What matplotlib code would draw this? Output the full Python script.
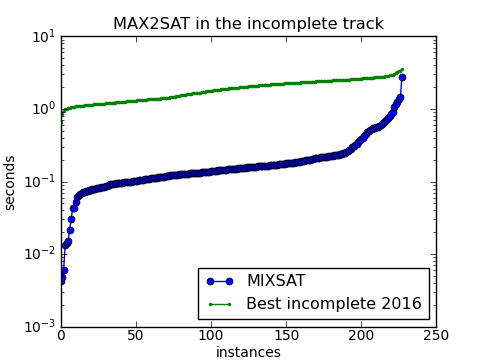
import matplotlib
matplotlib.use("Agg")
import matplotlib.pyplot as plt

title = "MAX2SAT in the incomplete track"
xlabel = "instances"
ylabel = "seconds"
label_mixsat = "MIXSAT"
label_best = "Best incomplete 2016"

mixsat = [
    0.0042, 0.0049, 0.0060, 0.0133, 0.0143, 0.0153, 0.0215, 0.030, 0.043, 0.043,
    0.052, 0.062, 0.066, 0.068, 0.069, 0.071, 0.072, 0.074, 0.075, 0.076,
    0.077, 0.078, 0.079, 0.080, 0.081, 0.082, 0.082, 0.083, 0.084, 0.085,
    0.087, 0.088, 0.090, 0.091, 0.092, 0.092, 0.093, 0.094, 0.094, 0.095,
    0.096, 0.096, 0.097, 0.098, 0.098, 0.099, 0.100, 0.100, 0.101, 0.102,
    0.102, 0.103, 0.104, 0.104, 0.105, 0.106, 0.107, 0.107, 0.108, 0.109,
    0.110, 0.110, 0.111, 0.112, 0.113, 0.114, 0.115, 0.116, 0.116, 0.117,
    0.118, 0.119, 0.120, 0.121, 0.121, 0.122, 0.123, 0.124, 0.124, 0.125,
    0.125, 0.126, 0.127, 0.127, 0.128, 0.128, 0.129, 0.130, 0.130, 0.131,
    0.132, 0.132, 0.133, 0.133, 0.134, 0.135, 0.135, 0.136, 0.136, 0.137,
    0.138, 0.139, 0.139, 0.140, 0.141, 0.142, 0.143, 0.143, 0.144, 0.145,
    0.146, 0.147, 0.147, 0.148, 0.149, 0.150, 0.150, 0.151, 0.152, 0.153,
    0.153, 0.154, 0.155, 0.155, 0.156, 0.157, 0.158, 0.158, 0.159, 0.160,
    0.160, 0.161, 0.162, 0.163, 0.163, 0.164, 0.165, 0.166, 0.166, 0.167,
    0.168, 0.169, 0.169, 0.170, 0.171, 0.172, 0.173, 0.174, 0.175, 0.176,
    0.177, 0.178, 0.179, 0.180, 0.181, 0.182, 0.184, 0.185, 0.186, 0.188,
    0.189, 0.191, 0.193, 0.195, 0.196, 0.198, 0.200, 0.203, 0.207, 0.210,
    0.212, 0.213, 0.214, 0.215, 0.216, 0.217, 0.219, 0.220, 0.222, 0.223,
    0.225, 0.227, 0.229, 0.231, 0.233, 0.234, 0.236, 0.240, 0.245, 0.250,
    0.256, 0.262, 0.270, 0.282, 0.296, 0.31, 0.32, 0.33, 0.35, 0.37,
    0.38, 0.40, 0.42, 0.45, 0.48, 0.50, 0.52, 0.53, 0.54, 0.55,
    0.56, 0.57, 0.58, 0.60, 0.62, 0.65, 0.68, 0.72, 0.76, 0.80,
    0.84, 0.92, 1.05, 1.18, 1.26, 1.35, 1.46, 2.74,
]

best2016 = [
    0.66, 0.86, 0.95, 0.99, 1.01, 1.02, 1.04, 1.05, 1.06, 1.07,
    1.08, 1.09, 1.10, 1.10, 1.11, 1.11, 1.12, 1.12, 1.13, 1.13,
    1.14, 1.14, 1.15, 1.15, 1.16, 1.16, 1.17, 1.17, 1.18, 1.18,
    1.19, 1.20, 1.20, 1.21, 1.21, 1.22, 1.22, 1.23, 1.23, 1.24,
    1.24, 1.25, 1.26, 1.26, 1.27, 1.27, 1.28, 1.28, 1.29, 1.29,
    1.30, 1.31, 1.31, 1.32, 1.32, 1.33, 1.34, 1.34, 1.35, 1.35,
    1.36, 1.36, 1.37, 1.38, 1.38, 1.39, 1.39, 1.40, 1.41, 1.41,
    1.42, 1.42, 1.43, 1.44, 1.46, 1.47, 1.48, 1.49, 1.51, 1.52,
    1.53, 1.55, 1.56, 1.57, 1.59, 1.60, 1.61, 1.62, 1.63, 1.64,
    1.65, 1.66, 1.67, 1.68, 1.70, 1.71, 1.72, 1.74, 1.75, 1.76,
    1.78, 1.79, 1.80, 1.81, 1.83, 1.84, 1.85, 1.86, 1.87, 1.88,
    1.89, 1.90, 1.91, 1.92, 1.93, 1.94, 1.95, 1.96, 1.97, 1.98,
    1.99, 2.00, 2.01, 2.02, 2.03, 2.04, 2.05, 2.06, 2.07, 2.08,
    2.09, 2.10, 2.11, 2.12, 2.13, 2.13, 2.14, 2.15, 2.16, 2.16,
    2.17, 2.18, 2.19, 2.19, 2.20, 2.21, 2.22, 2.22, 2.23, 2.24,
    2.25, 2.25, 2.26, 2.27, 2.28, 2.28, 2.29, 2.30, 2.30, 2.31,
    2.32, 2.33, 2.33, 2.34, 2.35, 2.36, 2.36, 2.37, 2.38, 2.38,
    2.39, 2.40, 2.41, 2.41, 2.42, 2.43, 2.43, 2.44, 2.45, 2.46,
    2.46, 2.47, 2.48, 2.48, 2.49, 2.50, 2.50, 2.51, 2.52, 2.52,
    2.53, 2.54, 2.54, 2.55, 2.56, 2.57, 2.58, 2.59, 2.60, 2.61,
    2.62, 2.63, 2.64, 2.65, 2.66, 2.67, 2.68, 2.69, 2.70, 2.71,
    2.72, 2.73, 2.74, 2.75, 2.77, 2.79, 2.81, 2.83, 2.86, 2.89,
    2.93, 2.97, 3.03, 3.10, 3.18, 3.28, 3.38, 3.50,
]

plt.style.use("classic")
plt.rcParams["font.size"] = 10
plt.rcParams["xtick.major.pad"] = 2
plt.rcParams["ytick.major.pad"] = 3

fig = plt.figure(figsize=(4.85, 3.63), dpi=100)
ax = fig.add_subplot(111)

ax.plot(range(len(mixsat)), mixsat, "o-", color="b", markersize=5,
        markeredgecolor="k", markeredgewidth=0.5, label=label_mixsat)
ax.plot(range(len(best2016)), best2016, ".-", color="g", markersize=4,
        label=label_best)

ax.set_yscale("log")
ax.set_xlim(0, 250)
ax.set_ylim(1e-3, 1e1)
ax.set_title(title, fontsize=11.7)
ax.set_xlabel(xlabel, fontsize=10, labelpad=2)
ax.set_ylabel(ylabel, fontsize=10, labelpad=4)
ax.legend(loc="lower right", fontsize=11.5, numpoints=2, handlelength=1.8)

fig.savefig("out.png", dpi=100)
